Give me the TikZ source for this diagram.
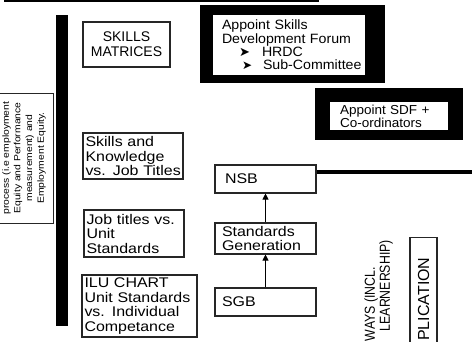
\documentclass[tikz,border=0pt]{standalone}
\usepackage{fontspec}
\setmainfont{Liberation Sans}
\newfontfamily\wsans[FakeStretch=1.14]{Liberation Sans}
\newfontfamily\fsans[FakeStretch=1.05]{Liberation Sans}
\newfontfamily\ssans[FakeStretch=1.04]{Liberation Sans}
\newfontfamily\tsans[FakeStretch=1.15]{Liberation Sans}
\newfontfamily\nsans[FakeStretch=0.85]{Liberation Sans}
\newfontfamily\dingfont{DejaVu Sans}
\usetikzlibrary{arrows.meta}
\begin{document}
\begin{tikzpicture}[x=1pt,y=-1pt,
  box/.style={draw=black!85, line width=1.1pt, fill=white, inner ysep=0pt},
  wtext/.style={font=\wsans\fontsize{14}{14.5}\selectfont},
  blackframe/.style={fill=black, inner sep=0pt},
  arr/.style={line width=1pt, -{Triangle[length=6pt,width=6pt]}}]
\useasboundingbox (0,0) rectangle (472,342);
\fill[white] (0,0) rectangle (472,342);
\clip (0,0) rectangle (472,342);

% top box (mostly cut off)
\node[draw, line width=2pt, minimum width=313pt, minimum height=11pt, inner sep=0pt] (topbox) at (161.5,-4.5) {};

% thick vertical bar
\node[blackframe, minimum width=12pt, minimum height=311pt] (bar) at (62,170.5) {};

% left rotated text box
\node[draw=black!85, line width=0.8pt, rotate=90, minimum width=130pt, minimum height=58pt,
  align=center, inner sep=0pt, font=\tsans\fontsize{9}{11.7}\selectfont] (leftbox) at (24,158)
  {process (i.e employment\\Equity and Performance\\measurement) and\\Employment Equity.};

% skills matrices
\node[box, minimum width=87pt, minimum height=45pt, align=center, inner xsep=0pt,
  font=\fontsize{14}{15}\selectfont] (skm) at (126.5,44.5) {SKILLS\\MATRICES};

% left column boxes
\node[box, wtext, inner xsep=2.5pt, text width=95pt, minimum height=46pt, align=left] (skjt) at (133,156)
  {\mbox{Skills and}\\\mbox{Knowledge}\\\mbox{vs. Job Titles}};
\node[box, wtext, inner xsep=2.5pt, text width=95pt, minimum height=47pt, align=left] (jtus) at (134,233.5)
  {\mbox{Job titles vs.}\\\mbox{Unit}\\\mbox{Standards}};
\node[box, wtext, inner xsep=2.5pt, text width=110pt, minimum height=62pt, align=left] (ilu) at (139.5,306)
  {\mbox{ILU CHART}\\\mbox{Unit Standards}\\\mbox{vs. Individual}\\\mbox{Competance}};

% middle column
\node[box, wtext, inner xsep=10pt, text width=81pt, minimum height=28pt, align=left] (nsb) at (265.5,179) {NSB};
\node[box, wtext, inner xsep=7pt, text width=87pt, minimum height=31pt, align=left] (stdgen) at (265.5,238.5)
  {\mbox{Standards}\\\mbox{Generation}};
\node[box, wtext, inner xsep=7pt, text width=87pt, minimum height=28pt, align=left] (sgb) at (265.5,302) {SGB};

\draw[arr] (sgb.north) -- (stdgen.south);
\draw[arr] (stdgen.north) -- (nsb.south);

\coordinate (nsbout) at (476,172);
\draw[line width=3.5pt] (nsb.east |- nsbout) -- (nsbout);

% Skills Development Forum frame
\node[blackframe, minimum width=185pt, minimum height=78pt] (forumframe) at (292.5,44) {};
\node[fill=white, inner xsep=9pt, inner ysep=0pt, text width=134pt, minimum height=60pt, align=left,
  font=\fsans\fontsize{13.5}{13.3}\selectfont] (forum) at (289,45)
  {\mbox{Appoint Skills}\\\mbox{Development Forum}\\
   \mbox{\hspace*{17pt}\makebox[23pt][l]{\dingfont\fontsize{13}{13}\selectfont ➤}HRDC}\\
   \mbox{\hspace*{20pt}\makebox[21pt][l]{\dingfont\fontsize{12}{12}\selectfont ➤}Sub-Committee}};

% Appoint SDF frame
\node[blackframe, minimum width=148pt, minimum height=52pt] (sdfframe) at (389,114) {};
\node[fill=white, inner xsep=10pt, inner ysep=0pt, text width=98pt, minimum height=28pt, align=left,
  font=\ssans\fontsize{13}{12}\selectfont] (sdf) at (389,116)
  {\mbox{Appoint SDF +}\\\mbox{Co-ordinators}};

% bottom right rotated texts
\node[rotate=90, anchor=east, inner sep=0pt, font=\nsans\fontsize{14.5}{15}\selectfont] (ways) at (371,267) {WAYS (INCL.};
\node[rotate=90, anchor=east, inner sep=0pt, font=\nsans\fontsize{14.5}{15}\selectfont] (learn) at (386,240) {LEARNERSHIP)};
\node[draw=black!85, line width=1.1pt, rotate=90, anchor=east, minimum height=27pt, inner xsep=20pt, inner ysep=0pt,
  font=\fontsize{16}{16}\selectfont] (appl) at (423.5,237) {PLICATION};
\end{tikzpicture}
\end{document}
